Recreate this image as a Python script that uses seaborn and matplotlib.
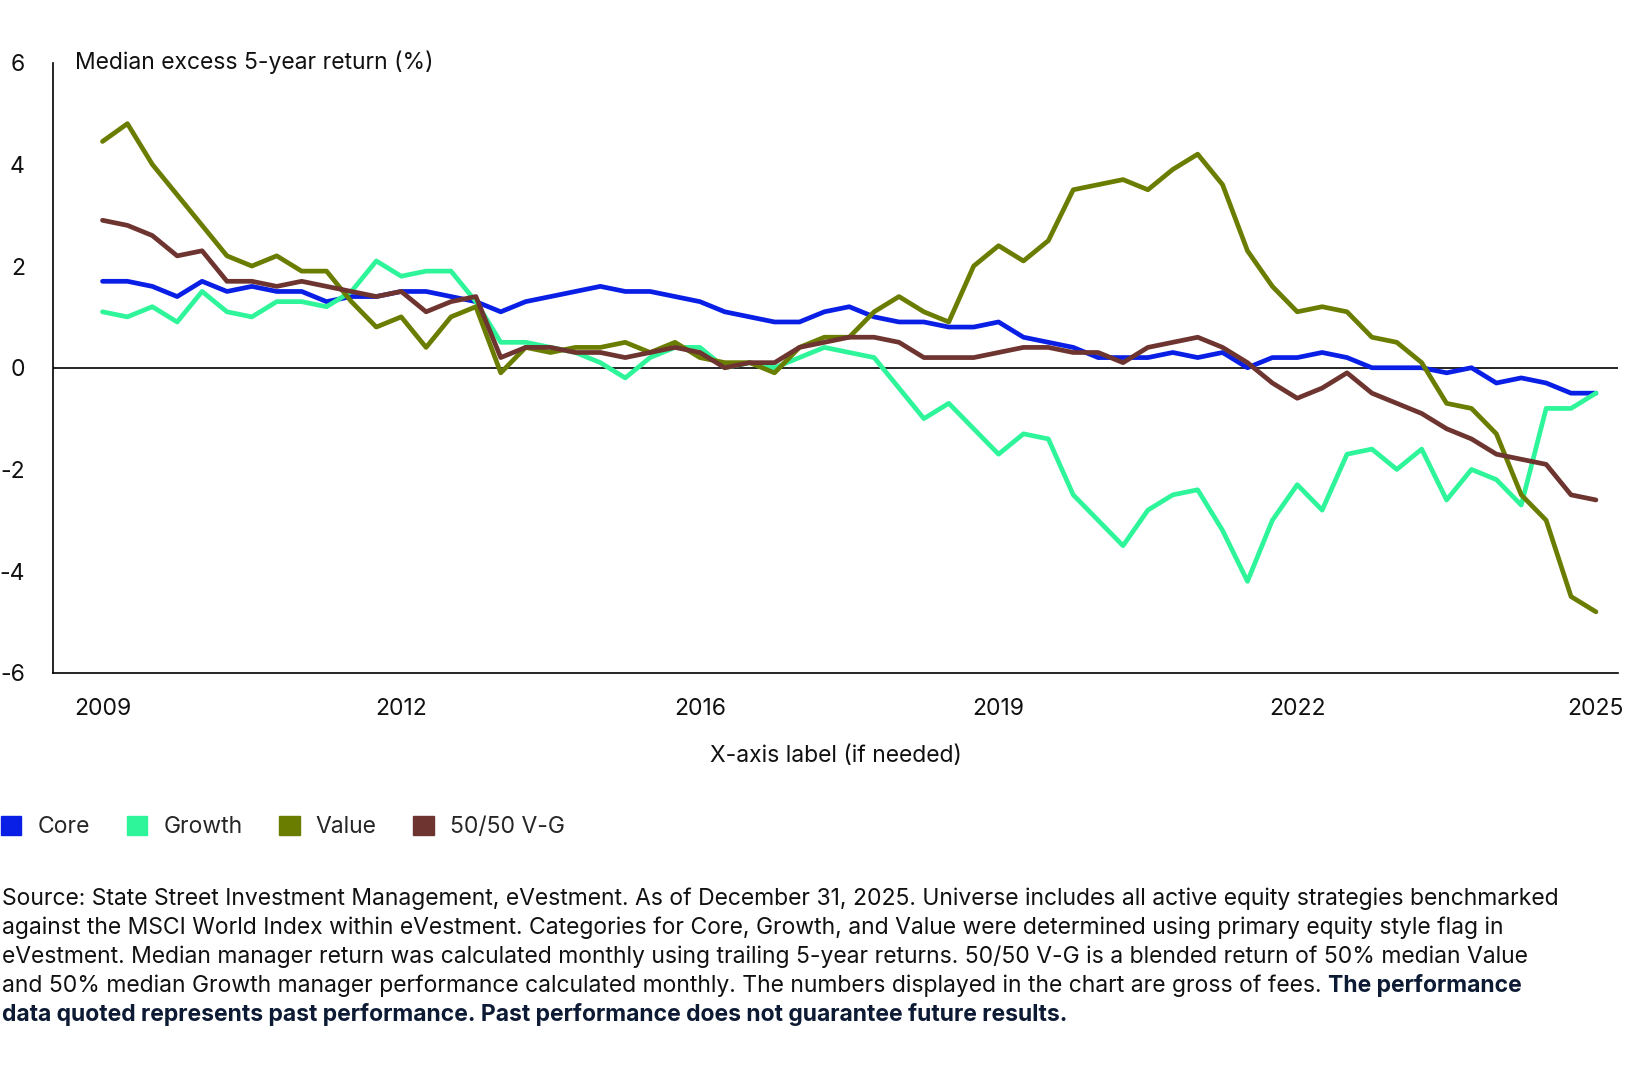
import matplotlib
matplotlib.use("Agg")
import matplotlib.pyplot as plt
import seaborn as sns
import pandas as pd
import numpy as np
from matplotlib.patches import Patch

sns.set_style("white")
plt.rcParams['font.family'] = ['Inter', 'DejaVu Sans']

quarters = list(range(61))  # quarter index from Jan 2009
tick_labels = ["2009", "2012", "2016", "2019", "2022", "2025"]
core = [1.7,1.7,1.6,1.4,1.7,1.5,1.6,1.5,1.5,1.3,1.4,1.4,1.5,1.5,1.4,1.3,1.1,1.3,1.4,1.5,1.6,1.5,1.5,1.4,1.3,1.1,1.0,0.9,0.9,1.1,1.2,1.0,0.9,0.9,0.8,0.8,0.9,0.6,0.5,0.4,0.2,0.2,0.2,0.3,0.2,0.3,0.0,0.2,0.2,0.3,0.2,0.0,0.0,0.0,-0.1,0.0,-0.3,-0.2,-0.3,-0.5,-0.5]
growth = [1.1,1.0,1.2,0.9,1.5,1.1,1.0,1.3,1.3,1.2,1.5,2.1,1.8,1.9,1.9,1.3,0.5,0.5,0.4,0.3,0.1,-0.2,0.2,0.4,0.4,0.0,0.1,0.0,0.2,0.4,0.3,0.2,-0.4,-1.0,-0.7,-1.2,-1.7,-1.3,-1.4,-2.5,-3.0,-3.5,-2.8,-2.5,-2.4,-3.2,-4.2,-3.0,-2.3,-2.8,-1.7,-1.6,-2.0,-1.6,-2.6,-2.0,-2.2,-2.7,-0.8,-0.8,-0.5]
value = [4.45,4.8,4.0,3.4,2.8,2.2,2.0,2.2,1.9,1.9,1.3,0.8,1.0,0.4,1.0,1.2,-0.1,0.4,0.3,0.4,0.4,0.5,0.3,0.5,0.2,0.1,0.1,-0.1,0.4,0.6,0.6,1.1,1.4,1.1,0.9,2.0,2.4,2.1,2.5,3.5,3.6,3.7,3.5,3.9,4.2,3.6,2.3,1.6,1.1,1.2,1.1,0.6,0.5,0.1,-0.7,-0.8,-1.3,-2.5,-3.0,-4.5,-4.8]
blend = [2.9,2.8,2.6,2.2,2.3,1.7,1.7,1.6,1.7,1.6,1.5,1.4,1.5,1.1,1.3,1.4,0.2,0.4,0.4,0.3,0.3,0.2,0.3,0.4,0.3,0.0,0.1,0.1,0.4,0.5,0.6,0.6,0.5,0.2,0.2,0.2,0.3,0.4,0.4,0.3,0.3,0.1,0.4,0.5,0.6,0.4,0.1,-0.3,-0.6,-0.4,-0.1,-0.5,-0.7,-0.9,-1.2,-1.4,-1.7,-1.8,-1.9,-2.5,-2.6]

names = ["Core", "Growth", "Value", "50/50 V-G"]
colors = ["#0a1fe6", "#2ef59a", "#6b7d00", "#6e3530"]
df = pd.concat([pd.DataFrame({"m": np.array(quarters) * 3, "v": s, "series": n})
                for n, s in zip(names, [core, growth, value, blend])])

FS = 16.5
fig = plt.figure(figsize=(16.48, 10.8), dpi=100)
ax = fig.add_axes([0.032, 0.377, 0.95, 0.565])
sns.lineplot(data=df, x="m", y="v", hue="series", hue_order=names,
             palette=dict(zip(names, colors)), linewidth=3.4, ax=ax, legend=False)
ax.axhline(0, color="black", lw=1.2, zorder=0)
ax.set_xlim(-6, 182.7)
ax.set_ylim(-6, 6)
ax.set_yticks([-6, -4, -2, 0, 2, 4, 6])
ax.set_yticklabels(["-6", "-4", "-2", "0", "2", "4", "6"])
ax.set_xticks([0, 36, 72, 108, 144, 180])
ax.set_xticklabels(tick_labels)
ax.tick_params(axis="both", labelsize=FS, direction="out", length=8, width=1, color="black", labelcolor="#111")
ax.tick_params(axis="x", pad=10)
ax.tick_params(axis="y", pad=12)
for s in ["top", "right"]:
    ax.spines[s].set_visible(False)
for s in ["left", "bottom"]:
    ax.spines[s].set_color("black")
    ax.spines[s].set_linewidth(1.2)
ax.set_xlabel("X-axis label (if needed)", fontsize=FS, labelpad=18, color="#111")
ax.set_ylabel("")
ax.text(0.014, 1.0, "Median excess 5-year return (%)", transform=ax.transAxes,
        fontsize=FS, va="center", ha="left", color="#111")

handles = [Patch(color=c, label=n) for n, c in zip(names, colors)]
fig.legend(handles=handles, loc="center left", bbox_to_anchor=(-0.012, 0.234), ncol=4,
           frameon=False, fontsize=FS, handlelength=0.9, handleheight=0.9,
           columnspacing=1.6, handletextpad=0.7)

lines = [
    "Source: State Street Investment Management, eVestment. As of December 31, 2025. Universe includes all active equity strategies benchmarked",
    "against the MSCI World Index within eVestment. Categories for Core, Growth, and Value were determined using primary equity style flag in",
    "eVestment. Median manager return was calculated monthly using trailing 5-year returns. 50/50 V-G is a blended return of 50% median Value",
    "and 50% median Growth manager performance calculated monthly. The numbers displayed in the chart are gross of fees. ",
]
y0 = 0.168
dy = 0.0268
for i, t in enumerate(lines):
    txt = fig.text(0.001, y0 - i * dy, t, fontsize=FS, color="#111", va="center", ha="left")
fig.canvas.draw()
bb = txt.get_window_extent().transformed(fig.transFigure.inverted())
fig.text(bb.x1, y0 - 3 * dy, "The performance", fontsize=FS, color="#0c1a33",
         fontweight="bold", va="center", ha="left")
fig.text(0.001, y0 - 4 * dy, "data quoted represents past performance. Past performance does not guarantee future results.",
         fontsize=FS, color="#0c1a33", fontweight="bold", va="center", ha="left")

fig.savefig("out.png", dpi=100)
